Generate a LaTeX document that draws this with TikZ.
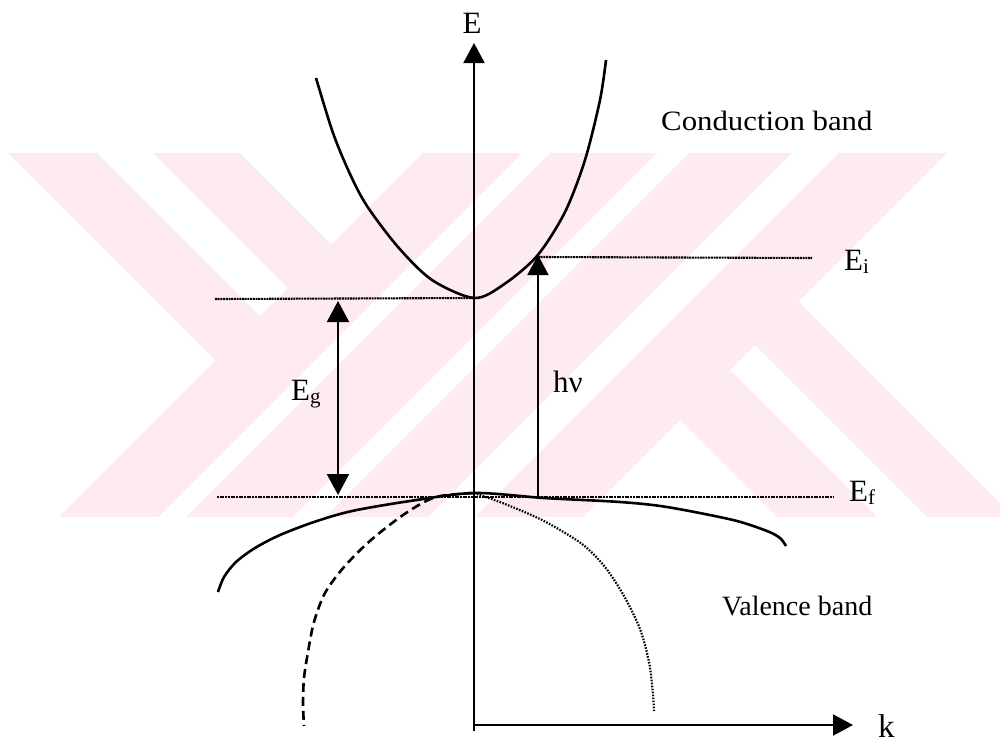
\documentclass[tikz,border=0pt]{standalone}
\usepackage{fontspec}
\setmainfont{Liberation Serif}
\usepackage{graphicx}
\usetikzlibrary{arrows.meta}
\definecolor{wmpink}{RGB}{253,235,239}
\newcommand{\lsub}[1]{\raisebox{-3pt}{\fontsize{21}{21}\selectfont #1}}
\begin{document}
\begin{tikzpicture}[x=1pt,y=-1pt,
  lvl/.style={line width=2.1pt, dash pattern=on 2pt off 0.7pt},
  bandline/.style={line width=2.6pt, line join=round},
  axis/.style={line width=2pt},
  tipend/.style={-{Triangle[length=20pt,width=21pt]}},
  lab/.style={inner sep=0pt, font=\fontsize{31}{36}\selectfont},
  txt/.style={inner sep=0pt, font=\fontsize{28}{33}\selectfont}]
\useasboundingbox (0,0) rectangle (1004,745);
% watermark
\begin{scope}
\clip (8,153) rectangle (1000,516);
\fill[wmpink] (-45,100) -- (44,100) -- (261,317) -- (216.5,361.5) -- cycle;
\fill[wmpink] (100,100) -- (187,100) -- (332.5,245.5) -- (289,289) -- cycle;
\foreach \a/\b in {576/675, 703/810, 842/945, 992/1100} {
  \fill[wmpink] (\a-100,100) -- (\b-100,100) -- (\b-560,560) -- (\a-560,560) -- cycle;
}
\fill[wmpink] (680,420) -- (730,370) -- (920,560) -- (820,560) -- cycle;
\fill[wmpink] (755,345) -- (798.5,301.5) -- (1057,560) -- (970,560) -- cycle;
\end{scope}
% coordinates
\coordinate (O) at (474,725);
\coordinate (Ebot) at (474,731);
\coordinate (Etop) at (474,43);
\coordinate (ktip) at (853,725);
\coordinate (Ec) at (474,298);
\coordinate (EcL) at (215,299);
\coordinate (EfL) at (217,497);
\coordinate (EfR) at (833,497);
\coordinate (EiL) at (538,257);
\coordinate (EiR) at (812,258);
\coordinate (EgT) at (338,301);
\coordinate (EgB) at (338,495);
\coordinate (hvB) at (538,497);
\coordinate (hvT) at (538,255);
% levels
\draw[lvl] (EcL) -- (Ec);
\draw[lvl] (EfL) -- (EfR);
\draw[lvl] (EiL) -- (EiR);
% axes
\draw[axis, tipend] (Ebot) -- (Etop);
\draw[axis, tipend] (O) -- (ktip);
% arrows
\draw[axis, {Triangle[length=21pt,width=22pt]}-{Triangle[length=21pt,width=22pt]}] (EgT) -- (EgB);
\draw[line width=1.7pt, tipend] (hvB) -- (hvT);
% conduction band
\draw[bandline] plot[smooth] coordinates {(316,78) (333,133) (350,174) (367,206) (398,247) (432,280) (474,298) (503,285) (537,256) (565,212) (585,160) (600,100) (606,60)};
% valence band (solid)
\draw[bandline] plot[smooth] coordinates {(218,592) (224,577) (236,562) (255,548) (280,535) (314,522) (352,511) (410,501) (474,493) (544,498) (620,502) (667,507) (733,520) (767,531) (780,538) (786,546)};
% dashed band
\draw[bandline, dash pattern=on 9pt off 5pt] plot[smooth] coordinates {(474,493) (436,497) (406,513) (371,540) (344,567) (325,593) (314,622) (308,652) (304,678) (303,704) (304,726)};
% dotted band
\draw[line width=2.2pt, dash pattern=on 1.6pt off 1.4pt] plot[smooth] coordinates {(474,493) (505,504) (544,521) (582,544) (605,567) (624,596) (640,629) (649,662) (653,694) (654,712)};
% labels
\node[lab, anchor=base] (Elab) at (472,33) {E};
\node[txt, anchor=base west] (cbl) at (661,130) {\scalebox{1.1}[1]{Conduction band}};
\node[txt, anchor=base west] (vbl) at (722,615) {Valence band};
\node[lab, anchor=base west] (Eil) at (844,270) {E\lsub{i}};
\node[lab, anchor=base west] (Efl) at (849,501) {E\lsub{f}};
\node[lab, anchor=base west] (Egl) at (291,400) {E\lsub{g}};
\node[lab, anchor=base west] (hvl) at (553,392) {hν};
\node[lab, anchor=base west, font=\fontsize{33}{38}\selectfont] (kl) at (878,737) {k};
\end{tikzpicture}
\end{document}
